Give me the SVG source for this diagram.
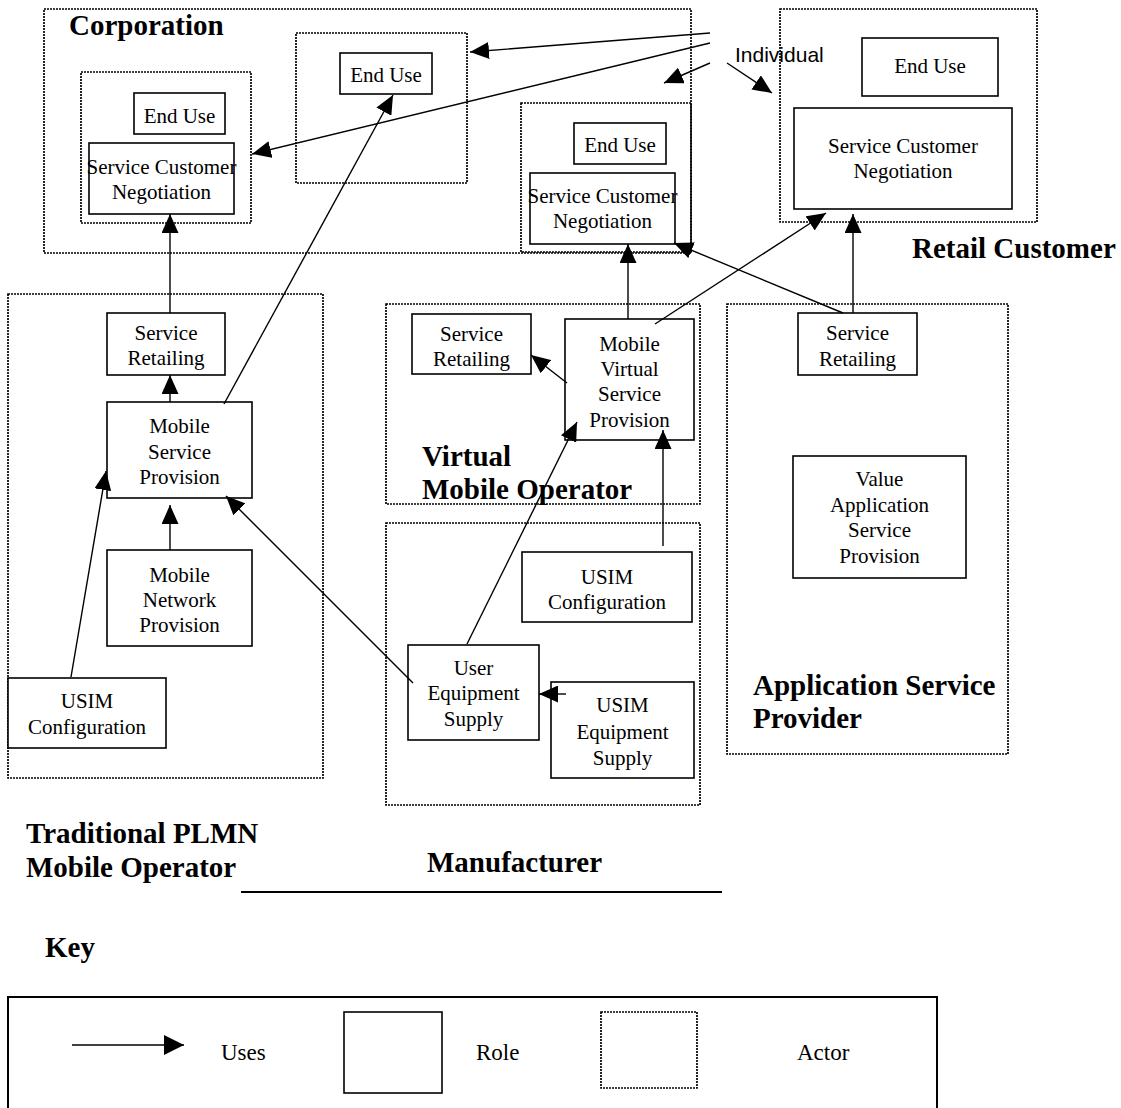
<svg xmlns="http://www.w3.org/2000/svg" width="1121" height="1108" viewBox="0 0 1121 1108">
<style>
  .actor { fill: none; stroke: #000; stroke-width: 1.7; stroke-dasharray: 2 1; }
  .role { fill: #fff; stroke: #000; stroke-width: 1.6; }
  .t { font-family: "Liberation Serif", "Times New Roman", serif; font-size: 21px; fill: #000; text-anchor: middle; }
  .title { font-family: "Liberation Serif", "Times New Roman", serif; font-size: 29px; font-weight: bold; fill: #000; }
  .key { font-family: "Liberation Serif", "Times New Roman", serif; font-size: 23px; fill: #000; }
  .sans { font-family: "Liberation Sans", Arial, sans-serif; font-size: 21px; fill: #000; }
  .conn line { stroke: #000; stroke-width: 1.4; marker-end: url(#ah); }
</style>
<defs>
  <marker id="ah" markerUnits="userSpaceOnUse" markerWidth="19" markerHeight="17" refX="19" refY="8.5" orient="auto">
    <path d="M0,0 L19,8.5 L0,17 z" fill="#000"/>
  </marker>
  <marker id="ahk" markerUnits="userSpaceOnUse" markerWidth="20" markerHeight="20" refX="20" refY="10" orient="auto">
    <path d="M0,0 L20,10 L0,20 z" fill="#000"/>
  </marker>
</defs>
<rect width="1121" height="1108" fill="#fff"/>

<!-- Corporation actor -->
<g id="corporation">
  <rect class="actor" x="44" y="9" width="647" height="244"/>
  <text class="title" x="69" y="35">Corporation</text>
</g>
<g id="corp-individual-left">
  <rect class="actor" x="81" y="72" width="170" height="151"/>
</g>
<g id="corp-enduse-left">
  <rect class="role" x="134" y="93" width="91" height="41"/>
  <text class="t" x="179.5" y="123">End Use</text>
</g>
<g id="corp-scn">
  <rect class="role" x="89" y="143" width="145" height="71"/>
  <text class="t" x="161.5" y="174">Service Customer</text>
  <text class="t" x="161.5" y="199">Negotiation</text>
</g>
<g id="corp-individual-mid">
  <rect class="actor" x="296" y="33" width="171" height="150"/>
</g>
<g id="corp-enduse-mid">
  <rect class="role" x="340" y="53" width="92" height="41"/>
  <text class="t" x="386" y="82">End Use</text>
</g>

<!-- Individual -->
<g id="individual">
  <text class="sans" x="735" y="62">Individual</text>
</g>

<!-- VMO customer inner actor -->
<g id="vmo-customer">
  <rect class="actor" x="521" y="103" width="170" height="149"/>
</g>
<g id="vmo-customer-enduse">
  <rect class="role" x="574" y="123" width="92" height="41"/>
  <text class="t" x="620" y="152">End Use</text>
</g>
<g id="vmo-customer-scn">
  <rect class="role" x="530" y="173" width="145" height="71"/>
  <text class="t" x="602.5" y="203">Service Customer</text>
  <text class="t" x="602.5" y="228">Negotiation</text>
</g>

<!-- Retail Customer -->
<g id="retail-customer">
  <rect class="actor" x="780" y="9" width="257" height="213"/>
  <text class="title" x="912" y="258">Retail Customer</text>
</g>
<g id="retail-enduse">
  <rect class="role" x="862" y="38" width="136" height="58"/>
  <text class="t" x="930" y="73">End Use</text>
</g>
<g id="retail-scn">
  <rect class="role" x="794" y="108" width="218" height="101"/>
  <text class="t" x="903" y="153">Service Customer</text>
  <text class="t" x="903" y="178">Negotiation</text>
</g>

<!-- Traditional PLMN Mobile Operator -->
<g id="traditional-plmn">
  <rect class="actor" x="8" y="294" width="315" height="484"/>
  <text class="title" x="26" y="843">Traditional PLMN</text>
  <text class="title" x="26" y="877">Mobile Operator</text>
</g>
<g id="plmn-service-retailing">
  <rect class="role" x="107" y="313" width="118" height="62"/>
  <text class="t" x="166" y="340">Service</text>
  <text class="t" x="166" y="365">Retailing</text>
</g>
<g id="plmn-msp">
  <rect class="role" x="107" y="402" width="145" height="96"/>
  <text class="t" x="179.5" y="433">Mobile</text>
  <text class="t" x="179.5" y="459">Service</text>
  <text class="t" x="179.5" y="484">Provision</text>
</g>
<g id="plmn-mnp">
  <rect class="role" x="107" y="550" width="145" height="96"/>
  <text class="t" x="179.5" y="582">Mobile</text>
  <text class="t" x="179.5" y="607">Network</text>
  <text class="t" x="179.5" y="632">Provision</text>
</g>
<g id="plmn-usim-config">
  <rect class="role" x="8" y="678" width="158" height="70"/>
  <text class="t" x="87" y="708">USIM</text>
  <text class="t" x="87" y="734">Configuration</text>
</g>

<!-- Virtual Mobile Operator -->
<g id="vmo">
  <rect class="actor" x="386" y="304" width="314" height="200"/>
  <text class="title" x="422" y="466">Virtual</text>
  <text class="title" x="422" y="499">Mobile Operator</text>
</g>
<g id="vmo-service-retailing">
  <rect class="role" x="412" y="314" width="119" height="60"/>
  <text class="t" x="471.5" y="341">Service</text>
  <text class="t" x="471.5" y="366">Retailing</text>
</g>
<g id="vmo-mvsp">
  <rect class="role" x="565" y="319" width="129" height="121"/>
  <text class="t" x="629.5" y="351">Mobile</text>
  <text class="t" x="629.5" y="376">Virtual</text>
  <text class="t" x="629.5" y="401">Service</text>
  <text class="t" x="629.5" y="427">Provision</text>
</g>

<!-- Manufacturer -->
<g id="manufacturer">
  <rect class="actor" x="386" y="523" width="314" height="282"/>
  <text class="title" x="427" y="872">Manufacturer</text>
</g>
<g id="manuf-usim-config">
  <rect class="role" x="522" y="552" width="170" height="70"/>
  <text class="t" x="607" y="584">USIM</text>
  <text class="t" x="607" y="609">Configuration</text>
</g>
<g id="manuf-ues">
  <rect class="role" x="408" y="645" width="131" height="95"/>
  <text class="t" x="473.5" y="675">User</text>
  <text class="t" x="473.5" y="700">Equipment</text>
  <text class="t" x="473.5" y="726">Supply</text>
</g>
<g id="manuf-usim-es">
  <rect class="role" x="551" y="682" width="143" height="96"/>
  <text class="t" x="622.5" y="712">USIM</text>
  <text class="t" x="622.5" y="739">Equipment</text>
  <text class="t" x="622.5" y="765">Supply</text>
</g>

<!-- Application Service Provider -->
<g id="asp">
  <rect class="actor" x="727" y="304" width="281" height="450"/>
  <text class="title" x="753" y="695">Application Service</text>
  <text class="title" x="753" y="728">Provider</text>
</g>
<g id="asp-service-retailing">
  <rect class="role" x="798" y="313" width="119" height="62"/>
  <text class="t" x="857.5" y="340">Service</text>
  <text class="t" x="857.5" y="366">Retailing</text>
</g>
<g id="asp-vasp">
  <rect class="role" x="793" y="456" width="173" height="122"/>
  <text class="t" x="879.5" y="486">Value</text>
  <text class="t" x="879.5" y="512">Application</text>
  <text class="t" x="879.5" y="537">Service</text>
  <text class="t" x="879.5" y="563">Provision</text>
</g>

<!-- Connectors -->
<g id="connectors" class="conn">
  <line x1="710" y1="33" x2="470" y2="52"/>
  <line x1="710" y1="43" x2="252" y2="154"/>
  <line x1="710" y1="63" x2="664" y2="83"/>
  <line x1="727" y1="63" x2="772" y2="93"/>
  <line x1="170" y1="313" x2="170" y2="214"/>
  <line x1="170" y1="402" x2="170" y2="375"/>
  <line x1="170" y1="550" x2="170" y2="505"/>
  <line x1="71" y1="677" x2="106" y2="471"/>
  <line x1="224" y1="404" x2="393" y2="95"/>
  <line x1="413" y1="683" x2="226" y2="496"/>
  <line x1="628" y1="319" x2="628" y2="244"/>
  <line x1="655" y1="324" x2="826" y2="213"/>
  <line x1="843" y1="313" x2="674" y2="243"/>
  <line x1="853" y1="313" x2="853" y2="214"/>
  <line x1="567" y1="383" x2="531" y2="355"/>
  <line x1="663" y1="546" x2="663" y2="430"/>
  <line x1="467" y1="644" x2="577" y2="422"/>
  <line x1="566" y1="694" x2="539" y2="694"/>
</g>

<!-- Separator line -->
<line x1="241" y1="892" x2="722" y2="892" stroke="#000" stroke-width="2"/>

<!-- Key -->
<g id="key">
  <text class="title" x="45" y="957">Key</text>
  <path d="M8,1110 V997 H937 V1110" fill="none" stroke="#000" stroke-width="2"/>
  <line x1="72" y1="1045" x2="184" y2="1045" stroke="#000" stroke-width="1.6" marker-end="url(#ahk)"/>
  <text class="key" x="221" y="1060">Uses</text>
  <rect class="role" x="344" y="1012" width="98" height="81"/>
  <text class="key" x="476" y="1060">Role</text>
  <rect class="actor" x="601" y="1012" width="96" height="76"/>
  <text class="key" x="797" y="1060">Actor</text>
</g>
</svg>
